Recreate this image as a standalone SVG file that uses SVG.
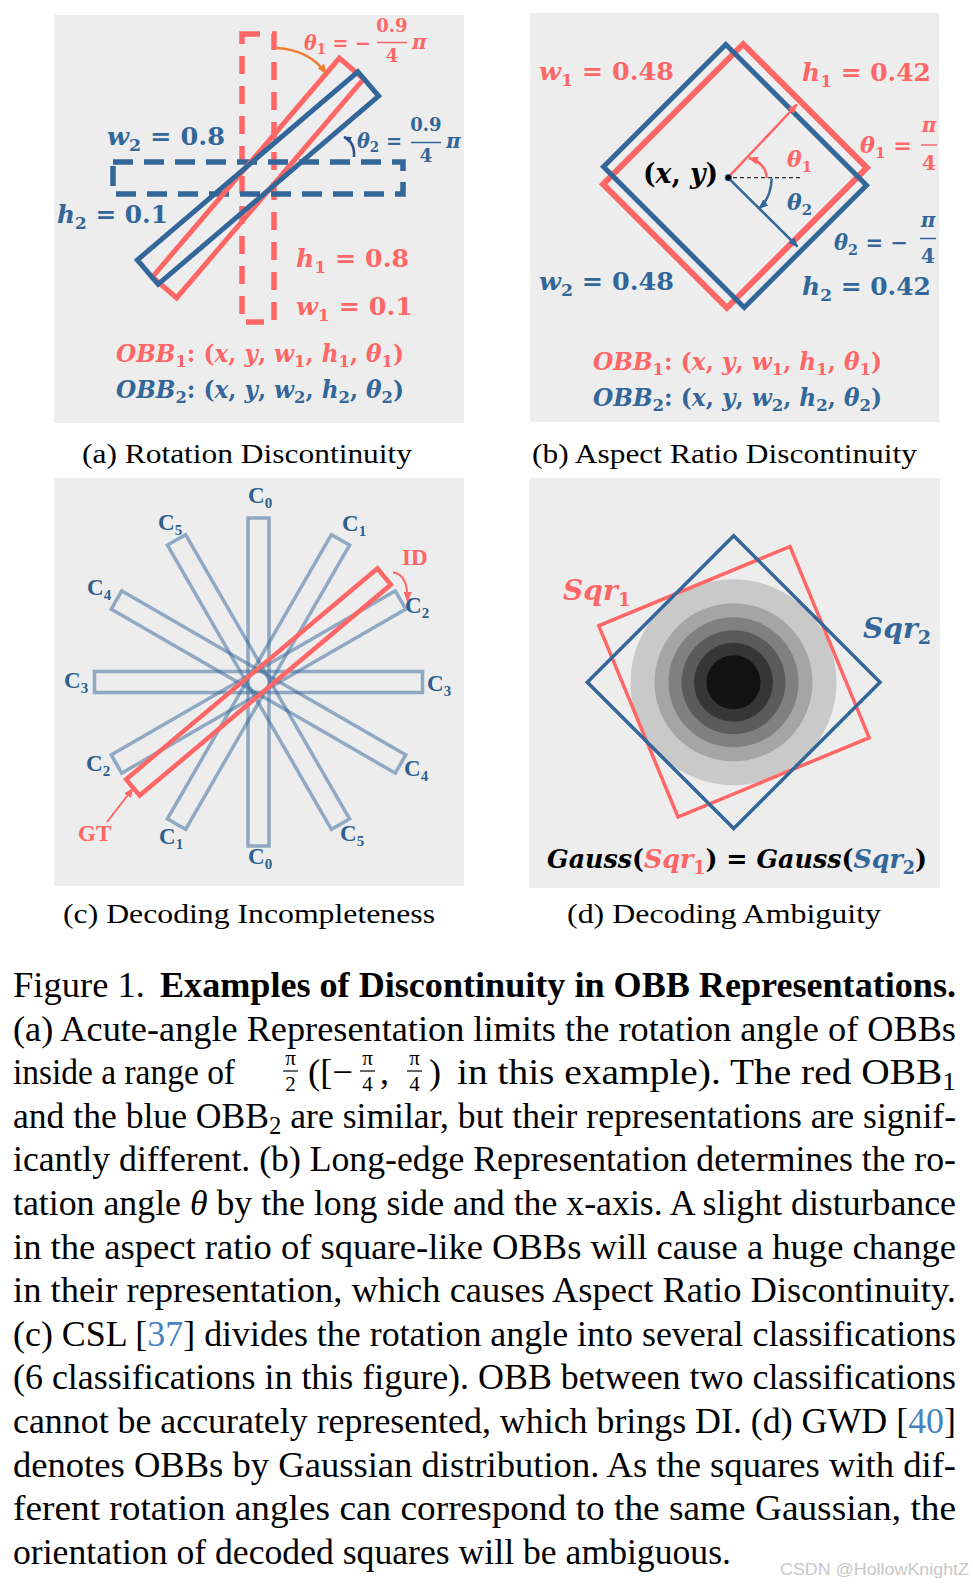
<svg xmlns="http://www.w3.org/2000/svg" width="973" height="1587" viewBox="0 0 973 1587">
<defs>
<style>
.bg{fill:#ededed}
.m{font-family:"DejaVu Serif","Liberation Serif",serif;font-weight:bold;font-style:italic}
.up{font-style:normal}
.R{fill:#ff6666}
.B{fill:#336699}
.K{fill:#000}
.cap{font-family:"Liberation Serif","Times New Roman",serif;font-size:28px;fill:#000}
.body{font-family:"Liberation Serif","Times New Roman",serif;font-size:36px;fill:#000}
.fr{font-family:"Liberation Serif","Times New Roman",serif;font-size:21px;fill:#000}
.cl{font-family:"Liberation Serif","Times New Roman",serif;font-weight:bold;font-size:23px;fill:#2f5f90}
.sr{fill:none;stroke:#ff6666}
.sb{fill:none;stroke:#336699}
.c{fill:none;stroke:#336699;stroke-opacity:.5;stroke-width:3.5}
.ref{fill:#4682c0}
</style>
<marker id="aR" viewBox="0 0 10 10" refX="9" refY="5" markerWidth="10" markerHeight="10" markerUnits="userSpaceOnUse" orient="auto"><path d="M0,1 L10,5 L0,9 Z" fill="#ff6666"/></marker>
<marker id="aB" viewBox="0 0 10 10" refX="9" refY="5" markerWidth="10" markerHeight="10" markerUnits="userSpaceOnUse" orient="auto"><path d="M0,1 L10,5 L0,9 Z" fill="#336699"/></marker>
<marker id="aO" viewBox="0 0 10 10" refX="9" refY="5" markerWidth="10" markerHeight="10" markerUnits="userSpaceOnUse" orient="auto"><path d="M0,1 L10,5 L0,9 Z" fill="#ed7d31"/></marker>
<marker id="aN" viewBox="0 0 10 10" refX="9" refY="5" markerWidth="8" markerHeight="8" markerUnits="userSpaceOnUse" orient="auto"><path d="M0,1 L10,5 L0,9 Z" fill="#2f4f8f"/></marker>
</defs>

<g id="panel-a">
<rect class="bg" x="54" y="15" width="410" height="408"/>
<rect class="sr" x="242" y="34" width="32" height="288" stroke-width="5.5" stroke-dasharray="18 12"/>
<rect class="sb" x="113" y="162" width="290" height="32" stroke-width="5.5" stroke-dasharray="20 11"/>
<rect class="sr" x="242" y="34" width="32" height="288" stroke-width="5" transform="rotate(40.5 258 178)"/>
<rect class="sb" x="113" y="162" width="290" height="32" stroke-width="5" transform="rotate(-40.5 258 178)"/>
<text class="m R" x="304" y="50" font-size="20" textLength="67" lengthAdjust="spacingAndGlyphs">θ<tspan class="up" font-size="14" dy="4">1</tspan><tspan class="up" dy="-4"> = −</tspan></text>
<text class="m R up" x="392" y="32" font-size="18" text-anchor="middle">0.9</text>
<line x1="377" y1="42.5" x2="407" y2="42.5" stroke="#ff6666" stroke-width="1.5"/>
<text class="m R up" x="392" y="62" font-size="18" text-anchor="middle">4</text>
<text class="m R" x="412" y="49" font-size="20">π</text>
<text class="m B" x="357" y="148" font-size="20" textLength="45" lengthAdjust="spacingAndGlyphs">θ<tspan class="up" font-size="14" dy="4">2</tspan><tspan class="up" dy="-4"> =</tspan></text>
<text class="m B up" x="426" y="131" font-size="18" text-anchor="middle">0.9</text>
<line x1="411" y1="142.5" x2="441" y2="142.5" stroke="#336699" stroke-width="1.5"/>
<text class="m B up" x="426" y="162" font-size="18" text-anchor="middle">4</text>
<text class="m B" x="446" y="148" font-size="20">π</text>
<text class="m B" x="107" y="145" font-size="25" textLength="118" lengthAdjust="spacingAndGlyphs">w<tspan class="up" font-size="17" dy="6">2</tspan><tspan class="up" dy="-6"> = 0.8</tspan></text>
<text class="m B" x="57" y="223" font-size="25" textLength="111" lengthAdjust="spacingAndGlyphs">h<tspan class="up" font-size="17" dy="6">2</tspan><tspan class="up" dy="-6"> = 0.1</tspan></text>
<text class="m R" x="296" y="267" font-size="25" textLength="113" lengthAdjust="spacingAndGlyphs">h<tspan class="up" font-size="17" dy="6">1</tspan><tspan class="up" dy="-6"> = 0.8</tspan></text>
<text class="m R" x="296" y="315" font-size="25" textLength="117" lengthAdjust="spacingAndGlyphs">w<tspan class="up" font-size="17" dy="6">1</tspan><tspan class="up" dy="-6"> = 0.1</tspan></text>
<text class="m R" x="116" y="362" font-size="24" textLength="288" lengthAdjust="spacingAndGlyphs">OBB<tspan class="up" font-size="17" dy="5">1</tspan><tspan class="up" dy="-5">: (</tspan>x<tspan class="up">, </tspan>y<tspan class="up">, </tspan>w<tspan class="up" font-size="17" dy="5">1</tspan><tspan class="up" dy="-5">, </tspan>h<tspan class="up" font-size="17" dy="5">1</tspan><tspan class="up" dy="-5">, </tspan>θ<tspan class="up" font-size="17" dy="5">1</tspan><tspan class="up" dy="-5">)</tspan></text>
<text class="m B" x="116" y="398" font-size="24" textLength="288" lengthAdjust="spacingAndGlyphs">OBB<tspan class="up" font-size="17" dy="5">2</tspan><tspan class="up" dy="-5">: (</tspan>x<tspan class="up">, </tspan>y<tspan class="up">, </tspan>w<tspan class="up" font-size="17" dy="5">2</tspan><tspan class="up" dy="-5">, </tspan>h<tspan class="up" font-size="17" dy="5">2</tspan><tspan class="up" dy="-5">, </tspan>θ<tspan class="up" font-size="17" dy="5">2</tspan><tspan class="up" dy="-5">)</tspan></text>
</g>

<g id="panel-b">
<rect class="bg" x="530" y="13" width="409" height="409"/>
<rect class="sr" x="636" y="88.5" width="198" height="175" stroke-width="6" transform="rotate(-45 735 176)"/>
<rect class="sb" x="635.5" y="89.5" width="199" height="173" stroke-width="5" transform="rotate(45 735 176)"/>
<line x1="733" y1="177.7" x2="800" y2="177.7" stroke="#333" stroke-width="1.3" stroke-dasharray="4 3"/>
<text class="m K" x="643" y="183" font-size="27" textLength="75" lengthAdjust="spacingAndGlyphs"><tspan class="up">(</tspan>x<tspan class="up">, </tspan>y<tspan class="up">)</tspan></text>
<text class="m R" x="787" y="167" font-size="22">θ<tspan class="up" font-size="15" dy="5">1</tspan></text>
<text class="m B" x="787" y="210" font-size="22">θ<tspan class="up" font-size="15" dy="5">2</tspan></text>
<text class="m R" x="539" y="80" font-size="25" textLength="135" lengthAdjust="spacingAndGlyphs">w<tspan class="up" font-size="17" dy="6">1</tspan><tspan class="up" dy="-6"> = 0.48</tspan></text>
<text class="m R" x="802" y="81" font-size="25" textLength="129" lengthAdjust="spacingAndGlyphs">h<tspan class="up" font-size="17" dy="6">1</tspan><tspan class="up" dy="-6"> = 0.42</tspan></text>
<text class="m B" x="539" y="290" font-size="25" textLength="135" lengthAdjust="spacingAndGlyphs">w<tspan class="up" font-size="17" dy="6">2</tspan><tspan class="up" dy="-6"> = 0.48</tspan></text>
<text class="m B" x="802" y="295" font-size="25" textLength="129" lengthAdjust="spacingAndGlyphs">h<tspan class="up" font-size="17" dy="6">2</tspan><tspan class="up" dy="-6"> = 0.42</tspan></text>
<text class="m R" x="860" y="153" font-size="22" textLength="52" lengthAdjust="spacingAndGlyphs">θ<tspan class="up" font-size="15" dy="5">1</tspan><tspan class="up" dy="-5"> =</tspan></text>
<text class="m R" x="929" y="132" font-size="20" text-anchor="middle">π</text>
<line x1="921" y1="145" x2="937" y2="145" stroke="#ff6666" stroke-width="1.5"/>
<text class="m R up" x="929" y="170" font-size="20" text-anchor="middle">4</text>
<text class="m B" x="834" y="250" font-size="22" textLength="74" lengthAdjust="spacingAndGlyphs">θ<tspan class="up" font-size="15" dy="5">2</tspan><tspan class="up" dy="-5"> = −</tspan></text>
<text class="m B" x="928" y="227" font-size="20" text-anchor="middle">π</text>
<line x1="920" y1="238.5" x2="936" y2="238.5" stroke="#336699" stroke-width="1.5"/>
<text class="m B up" x="928" y="263" font-size="20" text-anchor="middle">4</text>
<text class="m R" x="593" y="370" font-size="24" textLength="289" lengthAdjust="spacingAndGlyphs">OBB<tspan class="up" font-size="17" dy="5">1</tspan><tspan class="up" dy="-5">: (</tspan>x<tspan class="up">, </tspan>y<tspan class="up">, </tspan>w<tspan class="up" font-size="17" dy="5">1</tspan><tspan class="up" dy="-5">, </tspan>h<tspan class="up" font-size="17" dy="5">1</tspan><tspan class="up" dy="-5">, </tspan>θ<tspan class="up" font-size="17" dy="5">1</tspan><tspan class="up" dy="-5">)</tspan></text>
<text class="m B" x="593" y="406" font-size="24" textLength="289" lengthAdjust="spacingAndGlyphs">OBB<tspan class="up" font-size="17" dy="5">2</tspan><tspan class="up" dy="-5">: (</tspan>x<tspan class="up">, </tspan>y<tspan class="up">, </tspan>w<tspan class="up" font-size="17" dy="5">2</tspan><tspan class="up" dy="-5">, </tspan>h<tspan class="up" font-size="17" dy="5">2</tspan><tspan class="up" dy="-5">, </tspan>θ<tspan class="up" font-size="17" dy="5">2</tspan><tspan class="up" dy="-5">)</tspan></text>
</g>

<g id="panel-c">
<rect class="bg" x="54" y="478" width="410" height="408"/>
<rect class="c" x="248" y="518" width="21" height="328"/>
<rect class="c" x="248" y="518" width="21" height="328" transform="rotate(30 258.5 682)"/>
<rect class="c" x="248" y="518" width="21" height="328" transform="rotate(60 258.5 682)"/>
<rect class="c" x="248" y="518" width="21" height="328" transform="rotate(90 258.5 682)"/>
<rect class="c" x="248" y="518" width="21" height="328" transform="rotate(120 258.5 682)"/>
<rect class="c" x="248" y="518" width="21" height="328" transform="rotate(150 258.5 682)"/>
<rect class="sr" x="248" y="518" width="21" height="328" stroke-width="4.5" transform="rotate(50 258.5 682)"/>
<text class="cl" x="248" y="503">C<tspan font-size="15" dy="5">0</tspan></text>
<text class="cl" x="158" y="530">C<tspan font-size="15" dy="5">5</tspan></text>
<text class="cl" x="342" y="531">C<tspan font-size="15" dy="5">1</tspan></text>
<text class="cl" x="405" y="613">C<tspan font-size="15" dy="5">2</tspan></text>
<text class="cl" x="87" y="595">C<tspan font-size="15" dy="5">4</tspan></text>
<text class="cl" x="64" y="688">C<tspan font-size="15" dy="5">3</tspan></text>
<text class="cl" x="427" y="691">C<tspan font-size="15" dy="5">3</tspan></text>
<text class="cl" x="86" y="771">C<tspan font-size="15" dy="5">2</tspan></text>
<text class="cl" x="404" y="776">C<tspan font-size="15" dy="5">4</tspan></text>
<text class="cl" x="159" y="844">C<tspan font-size="15" dy="5">1</tspan></text>
<text class="cl" x="340" y="841">C<tspan font-size="15" dy="5">5</tspan></text>
<text class="cl" x="248" y="864">C<tspan font-size="15" dy="5">0</tspan></text>
<text class="cl" x="402" y="565" style="fill:#ff6666">ID</text>
<text class="cl" x="78" y="841" style="fill:#ff6666">GT</text>
</g>

<g id="panel-d">
<rect class="bg" x="529" y="478" width="411" height="410"/>
<circle cx="733.5" cy="682.3" r="103" fill="#c9c9c9"/>
<circle cx="733.5" cy="682.3" r="79" fill="#a5a5a5"/>
<circle cx="733.5" cy="682.3" r="65" fill="#808080"/>
<circle cx="733.5" cy="682.3" r="52" fill="#5b5b5b"/>
<circle cx="733.5" cy="682.3" r="39.5" fill="#363636"/>
<circle cx="733.5" cy="682.3" r="27" fill="#121212"/>
<rect class="sr" x="630.5" y="578.2" width="207" height="207" stroke-width="3.5" transform="rotate(-22.5 734 681.7)"/>
<rect class="sb" x="630.2" y="578.7" width="207" height="207" stroke-width="3.5" transform="rotate(45 733.7 682.2)"/>
<text class="m R" x="563" y="600" font-size="28" textLength="68" lengthAdjust="spacingAndGlyphs">Sqr<tspan class="up" font-size="19" dy="6">1</tspan></text>
<text class="m B" x="863" y="638" font-size="28" textLength="68" lengthAdjust="spacingAndGlyphs">Sqr<tspan class="up" font-size="19" dy="6">2</tspan></text>
<text class="m K" x="547" y="868" font-size="26" textLength="380" lengthAdjust="spacingAndGlyphs">Gauss<tspan class="up">(</tspan><tspan class="R">Sqr</tspan><tspan class="R up" font-size="18" dy="6">1</tspan><tspan class="up" dy="-6">) = </tspan>Gauss<tspan class="up">(</tspan><tspan class="B">Sqr</tspan><tspan class="B up" font-size="18" dy="6">2</tspan><tspan class="up" dy="-6">)</tspan></text>
</g>

<g id="connectors" fill="none">
<path d="M276.7,48 Q310,50 326,73.5" stroke="#ed7d31" stroke-width="2.5" marker-end="url(#aO)"/>
<path d="M354,157 Q355,142 344,137" stroke="#2f4f8f" stroke-width="2.5" marker-end="url(#aN)"/>
<line x1="728" y1="177.7" x2="797" y2="104.5" stroke="#ff6666" stroke-width="2.5" marker-end="url(#aR)"/>
<line x1="728" y1="177.7" x2="797.5" y2="246.5" stroke="#336699" stroke-width="2.5" marker-end="url(#aB)"/>
<path d="M766.7,178 Q766,163 749,158" stroke="#ff6666" stroke-width="2.5" marker-end="url(#aR)"/>
<path d="M771.7,178.5 Q771,198 759,208.5" stroke="#336699" stroke-width="2.5" marker-end="url(#aB)"/>
<path d="M393,572.5 Q408,574 407.5,601" stroke="#ff6666" stroke-width="2" marker-end="url(#aR)"/>
<line x1="107" y1="822" x2="133" y2="788.5" stroke="#ff6666" stroke-width="2" marker-end="url(#aR)"/>
<circle cx="728.3" cy="177.7" r="3.2" fill="#000" stroke="#336699" stroke-width="1"/>
</g>

<g id="subcaptions">
<text class="cap" x="82" y="463" textLength="330" lengthAdjust="spacingAndGlyphs">(a) Rotation Discontinuity</text>
<text class="cap" x="532" y="463" textLength="385" lengthAdjust="spacingAndGlyphs">(b) Aspect Ratio Discontinuity</text>
<text class="cap" x="63" y="923" textLength="372" lengthAdjust="spacingAndGlyphs">(c) Decoding Incompleteness</text>
<text class="cap" x="567" y="923" textLength="314" lengthAdjust="spacingAndGlyphs">(d) Decoding Ambiguity</text>
</g>

<g id="caption">
<text class="body" x="13" y="997" textLength="132" lengthAdjust="spacingAndGlyphs">Figure 1.</text>
<text class="body" x="160" y="997" font-weight="bold" textLength="796" lengthAdjust="spacingAndGlyphs">Examples of Discontinuity in OBB Representations.</text>
<text class="body" x="13" y="1040.6" textLength="943" lengthAdjust="spacingAndGlyphs">(a) Acute-angle Representation limits the rotation angle of OBBs</text>
<text class="body" x="13" y="1084.2" textLength="222" lengthAdjust="spacingAndGlyphs">inside a range of</text>
<text class="fr" x="290.5" y="1065" text-anchor="middle">π</text>
<line x1="283" y1="1071" x2="298" y2="1071" stroke="#000" stroke-width="1.2"/>
<text class="fr" x="290.5" y="1091" text-anchor="middle">2</text>
<text class="body" x="308" y="1084.2" textLength="45" lengthAdjust="spacingAndGlyphs">([−</text>
<text class="fr" x="367.5" y="1065" text-anchor="middle">π</text>
<line x1="360" y1="1071" x2="375" y2="1071" stroke="#000" stroke-width="1.2"/>
<text class="fr" x="367.5" y="1091" text-anchor="middle">4</text>
<text class="body" x="380" y="1084.2">,</text>
<text class="fr" x="414.5" y="1065" text-anchor="middle">π</text>
<line x1="407" y1="1071" x2="422" y2="1071" stroke="#000" stroke-width="1.2"/>
<text class="fr" x="414.5" y="1091" text-anchor="middle">4</text>
<text class="body" x="429" y="1084.2">)</text>
<text class="body" x="457" y="1084.2" textLength="499" lengthAdjust="spacingAndGlyphs">in this example).  The red OBB<tspan font-size="25" dy="6">1</tspan></text>
<text class="body" x="13" y="1127.8" textLength="943" lengthAdjust="spacingAndGlyphs">and the blue OBB<tspan font-size="25" dy="6">2</tspan><tspan dy="-6"> are similar, but their representations are signif-</tspan></text>
<text class="body" x="13" y="1171.4" textLength="943" lengthAdjust="spacingAndGlyphs">icantly different. (b) Long-edge Representation determines the ro-</text>
<text class="body" x="13" y="1215" textLength="943" lengthAdjust="spacingAndGlyphs">tation angle <tspan font-style="italic">θ</tspan> by the long side and the x-axis. A slight disturbance</text>
<text class="body" x="13" y="1258.6" textLength="943" lengthAdjust="spacingAndGlyphs">in the aspect ratio of square-like OBBs will cause a huge change</text>
<text class="body" x="13" y="1302.2" textLength="943" lengthAdjust="spacingAndGlyphs">in their representation, which causes Aspect Ratio Discontinuity.</text>
<text class="body" x="13" y="1345.8" textLength="943" lengthAdjust="spacingAndGlyphs">(c) CSL [<tspan class="ref">37</tspan>] divides the rotation angle into several classifications</text>
<text class="body" x="13" y="1389.4" textLength="943" lengthAdjust="spacingAndGlyphs">(6 classifications in this figure). OBB between two classifications</text>
<text class="body" x="13" y="1433" textLength="943" lengthAdjust="spacingAndGlyphs">cannot be accurately represented, which brings DI. (d) GWD [<tspan class="ref">40</tspan>]</text>
<text class="body" x="13" y="1476.6" textLength="943" lengthAdjust="spacingAndGlyphs">denotes OBBs by Gaussian distribution.  As the squares with dif-</text>
<text class="body" x="13" y="1520.2" textLength="943" lengthAdjust="spacingAndGlyphs">ferent rotation angles can correspond to the same Gaussian, the</text>
<text class="body" x="13" y="1563.8" textLength="718" lengthAdjust="spacingAndGlyphs">orientation of decoded squares will be ambiguous.</text>
<text x="780" y="1575" font-family="Liberation Sans, Arial, sans-serif" font-size="17" fill="#c8c8c8" textLength="189" lengthAdjust="spacingAndGlyphs">CSDN @HollowKnightZ</text>
</g>
</svg>
